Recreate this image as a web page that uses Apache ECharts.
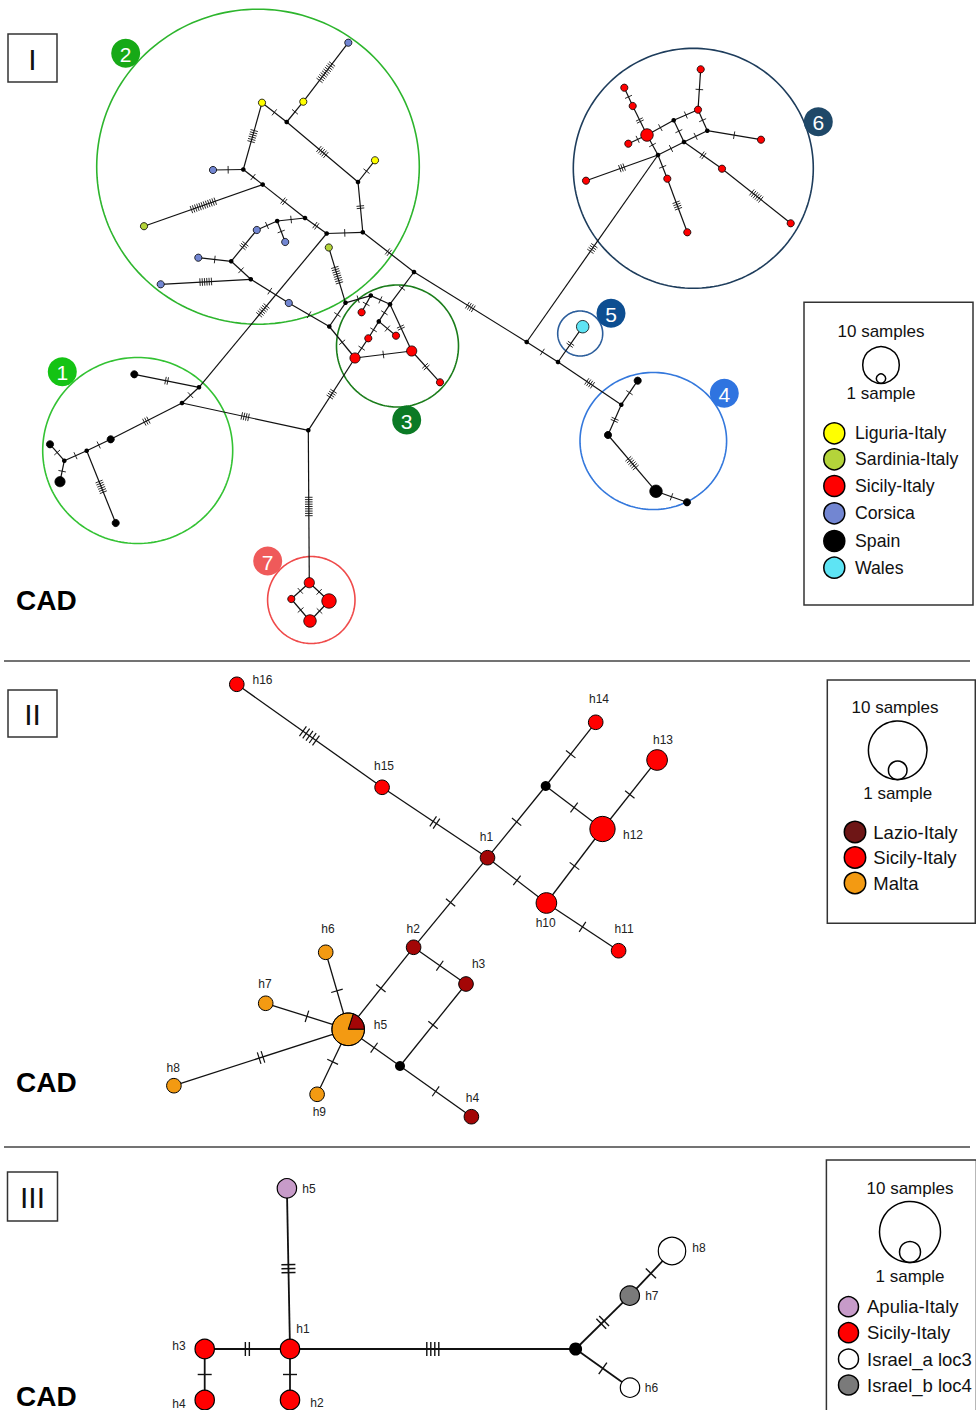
<!DOCTYPE html>
<html>
<head>
<meta charset="utf-8">
<title>CAD haplotype networks</title>
<script src="https://cdn.jsdelivr.net/npm/echarts@6.0.0/dist/echarts.min.js"></script>
<style>
html, body { margin: 0; padding: 0; background: #fff; }
#chart { width: 976px; height: 1410px; }
</style>
</head>
<body>
<div id="chart"></div>
<script>
// ================= Panel I =================
const popsI = ['Liguria-Italy', 'Sardinia-Italy', 'Sicily-Italy', 'Corsica', 'Spain', 'Wales'];
const colorsI = ['#ffff00', '#b4d43a', '#ff0000', '#7286d2', '#000000', '#5ee4f4'];

// haplotypes: [id, x, y, {population: samples}]; {} marks a median vector
const nodesI = [
  ['A1', 348.3, 42.7, { 'Corsica': 1 }],
  ['A2', 303.3, 101.7, { 'Liguria-Italy': 1 }],
  ['A3', 262.0, 102.7, { 'Liguria-Italy': 1 }],
  ['A4', 286.7, 122.0, {}],
  ['A5', 375.0, 160.3, { 'Liguria-Italy': 1 }],
  ['A6', 358.0, 182.0, {}],
  ['A7', 243.3, 169.5, {}],
  ['A8', 213.0, 170.0, { 'Corsica': 1 }],
  ['A9', 262.7, 184.6, {}],
  ['A10', 144.0, 226.2, { 'Sardinia-Italy': 1 }],
  ['A11', 305.0, 218.0, {}],
  ['A12', 277.2, 221.0, {}],
  ['A13', 256.8, 230.0, { 'Corsica': 1 }],
  ['A14', 285.2, 242.0, { 'Corsica': 1 }],
  ['A15', 326.7, 233.5, {}],
  ['A16', 362.8, 232.3, {}],
  ['A17', 328.8, 247.5, { 'Sardinia-Italy': 1 }],
  ['A18', 198.3, 257.7, { 'Corsica': 1 }],
  ['A19', 231.2, 261.3, {}],
  ['A20', 160.7, 284.3, { 'Corsica': 1 }],
  ['A21', 250.8, 279.3, {}],
  ['A22', 288.8, 303.0, { 'Corsica': 1 }],
  ['A23', 329.3, 326.5, {}],
  ['A24', 414.0, 272.0, {}],
  ['A25', 345.5, 302.8, {}],
  ['A26', 370.8, 295.6, {}],
  ['A27', 390.0, 304.2, {}],
  ['A28', 361.6, 312.3, { 'Sicily-Italy': 1 }],
  ['A29', 378.8, 321.4, {}],
  ['A30', 396.0, 335.7, { 'Sicily-Italy': 1 }],
  ['A31', 368.3, 338.3, { 'Sicily-Italy': 1 }],
  ['A32', 355.0, 358.0, { 'Sicily-Italy': 2 }],
  ['A33', 411.7, 351.0, { 'Sicily-Italy': 2 }],
  ['A34', 440.0, 382.3, { 'Sicily-Italy': 1 }],
  ['B1', 134.3, 374.3, { 'Spain': 1 }],
  ['B2', 199.0, 387.3, {}],
  ['B3', 182.0, 403.0, {}],
  ['B4', 110.7, 439.3, { 'Spain': 1 }],
  ['B5', 86.7, 450.7, {}],
  ['B6', 64.3, 460.7, {}],
  ['B7', 50.0, 444.3, { 'Spain': 1 }],
  ['B8', 60.0, 481.7, { 'Spain': 2 }],
  ['B9', 115.7, 523.0, { 'Spain': 1 }],
  ['B10', 308.3, 430.3, {}],
  ['C1', 309.3, 582.7, { 'Sicily-Italy': 2 }],
  ['C2', 291.3, 599.0, { 'Sicily-Italy': 1 }],
  ['C3', 329.0, 601.0, { 'Sicily-Italy': 4 }],
  ['C4', 310.0, 621.0, { 'Sicily-Italy': 3 }],
  ['D1', 526.7, 342.0, {}],
  ['D2', 558.0, 362.0, {}],
  ['D3', 582.7, 326.7, { 'Wales': 3 }],
  ['D4', 621.3, 404.7, {}],
  ['D5', 637.7, 380.7, { 'Spain': 1 }],
  ['D6', 608.0, 435.0, { 'Spain': 1 }],
  ['D7', 656.0, 491.3, { 'Spain': 3 }],
  ['D8', 687.0, 502.3, { 'Spain': 1 }],
  ['E1', 700.7, 69.3, { 'Sicily-Italy': 1 }],
  ['E2', 698.0, 109.7, { 'Sicily-Italy': 1 }],
  ['E3', 624.3, 87.7, { 'Sicily-Italy': 1 }],
  ['E4', 632.7, 106.0, { 'Sicily-Italy': 1 }],
  ['E5', 647.0, 135.0, { 'Sicily-Italy': 3 }],
  ['E6', 628.3, 143.7, { 'Sicily-Italy': 1 }],
  ['E7', 673.7, 120.3, {}],
  ['E8', 707.3, 130.7, {}],
  ['E9', 684.0, 142.0, {}],
  ['E10', 658.0, 155.0, {}],
  ['E11', 761.0, 139.7, { 'Sicily-Italy': 1 }],
  ['E12', 586.0, 180.7, { 'Sicily-Italy': 1 }],
  ['E13', 667.3, 178.7, { 'Sicily-Italy': 1 }],
  ['E14', 687.3, 232.3, { 'Sicily-Italy': 1 }],
  ['E15', 722.0, 168.7, { 'Sicily-Italy': 1 }],
  ['E16', 790.7, 223.3, { 'Sicily-Italy': 1 }]
];

// links: [from, to, mutational steps]
const edgesI = [
  ['A1', 'A2', 10], ['A2', 'A4', 1], ['A3', 'A4', 1], ['A4', 'A6', 5], ['A5', 'A6', 1], ['A6', 'A16', 2],
  ['A3', 'A7', 6], ['A8', 'A7', 1], ['A7', 'A9', 1], ['A10', 'A9', 12], ['A9', 'A11', 2], ['A11', 'A15', 2],
  ['A15', 'A16', 1], ['A12', 'A11', 1], ['A12', 'A13', 1], ['A12', 'A14', 1], ['A13', 'A19', 3],
  ['A18', 'A19', 1], ['A19', 'A21', 1], ['A20', 'A21', 6], ['A21', 'A22', 1], ['A22', 'A23', 1],
  ['A15', 'B2', 6], ['A16', 'A24', 2], ['A24', 'D1', 4], ['A17', 'A25', 8], ['A25', 'A23', 1],
  ['A25', 'A26', 1], ['A26', 'A28', 1], ['A26', 'A27', 1], ['A27', 'A24', 1], ['A27', 'A29', 1],
  ['A29', 'A31', 1], ['A31', 'A32', 1], ['A29', 'A30', 1], ['A27', 'A33', 2], ['A32', 'A33', 1],
  ['A33', 'A34', 2], ['A23', 'A32', 1], ['B10', 'A32', 4],
  ['B1', 'B2', 2], ['B2', 'B3', 1], ['B3', 'B4', 3], ['B4', 'B5', 1], ['B5', 'B6', 1], ['B6', 'B7', 1],
  ['B6', 'B8', 1], ['B5', 'B9', 6], ['B3', 'B10', 4],
  ['B10', 'C1', 9], ['C1', 'C2', 1], ['C1', 'C3', 1], ['C2', 'C4', 1], ['C3', 'C4', 1],
  ['D1', 'D2', 1], ['D2', 'D3', 2], ['D2', 'D4', 4], ['D4', 'D5', 1], ['D4', 'D6', 2], ['D6', 'D7', 6],
  ['D7', 'D8', 1], ['D1', 'E10', 4],
  ['E1', 'E2', 1], ['E2', 'E7', 1], ['E2', 'E8', 1], ['E7', 'E5', 1], ['E7', 'E9', 1], ['E8', 'E9', 1],
  ['E8', 'E11', 1], ['E3', 'E4', 1], ['E4', 'E5', 2], ['E5', 'E6', 1], ['E5', 'E10', 1], ['E9', 'E10', 1],
  ['E10', 'E12', 3], ['E10', 'E13', 1], ['E13', 'E14', 4], ['E9', 'E15', 2], ['E15', 'E16', 6]
];

// haplogroups: [label, centre x, centre y, radius x, radius y]
const groupsI = [
  ['1', 137.7, 450.5, 95, 93],
  ['2', 258.0, 166.7, 161.3, 157.5],
  ['3', 397.5, 346.0, 61, 61],
  ['4', 653.3, 441.0, 73.3, 68.5],
  ['5', 580.2, 333.5, 22.5, 22.5],
  ['6', 693.3, 168.3, 120, 120],
  ['7', 311.3, 600.0, 43.7, 43.5]
];
const groupTagsI = [
  ['1', 62.3, 371.7], ['2', 125.7, 53.3], ['3', 406.7, 420.0], ['4', 724.3, 393.3],
  ['5', 611.0, 313.3], ['6', 818.3, 121.7], ['7', 267.7, 561.0]
];
const groupRingColors = ['#33c233', '#2db52d', '#1b7d1b', '#3478dc', '#2b5d9b', '#1e3d5c', '#ef4a4a'];
const groupTagColors = ['#14c314', '#17a917', '#0b7a25', '#2f74e0', '#0d4e91', '#1f4868', '#ef5a5a'];

// ================= Panel II =================
const popsII = ['Lazio-Italy', 'Sicily-Italy', 'Malta'];
const colorsII = ['#a30606', '#ff0000', '#f39a12'];
const swatchII = ['#6e1616', '#ff0000', '#f39a12'];

const nodesII = [
  ['h16', 236.8, 684.3, { 'Sicily-Italy': 1 }],
  ['h15', 382.1, 787.3, { 'Sicily-Italy': 1 }],
  ['h14', 595.7, 722.3, { 'Sicily-Italy': 1 }],
  ['h13', 657.1, 760.0, { 'Sicily-Italy': 2 }],
  ['h12', 602.5, 829.0, { 'Sicily-Italy': 3 }],
  ['h1', 487.5, 857.7, { 'Lazio-Italy': 1 }],
  ['mv1', 545.7, 786.0, {}],
  ['h10', 546.4, 903.0, { 'Sicily-Italy': 2 }],
  ['h11', 618.6, 950.7, { 'Sicily-Italy': 1 }],
  ['h2', 413.6, 947.3, { 'Lazio-Italy': 1 }],
  ['h3', 466.0, 984.0, { 'Lazio-Italy': 1 }],
  ['h5', 348.2, 1029.3, { 'Lazio-Italy': 1, 'Malta': 4 }],
  ['mv2', 400.0, 1066.0, {}],
  ['h4', 471.4, 1116.7, { 'Lazio-Italy': 1 }],
  ['h6', 325.7, 952.3, { 'Malta': 1 }],
  ['h7', 265.7, 1003.3, { 'Malta': 1 }],
  ['h8', 173.9, 1085.7, { 'Malta': 1 }],
  ['h9', 317.1, 1094.3, { 'Malta': 1 }]
];
const edgesII = [
  ['h16', 'h15', 5], ['h15', 'h1', 2], ['h1', 'mv1', 1], ['mv1', 'h14', 1], ['mv1', 'h12', 1],
  ['h12', 'h13', 1], ['h1', 'h10', 1], ['h10', 'h12', 1], ['h10', 'h11', 1], ['h1', 'h2', 1],
  ['h2', 'h5', 1], ['h2', 'h3', 1], ['h3', 'mv2', 1], ['h5', 'mv2', 1], ['mv2', 'h4', 1],
  ['h5', 'h6', 1], ['h5', 'h7', 1], ['h5', 'h8', 2], ['h5', 'h9', 1]
];

// ================= Panel III =================
const popsIII = ['Apulia-Italy', 'Sicily-Italy', 'Israel_a loc3', 'Israel_b loc4'];
const colorsIII = ['#c79bc9', '#ff0000', '#ffffff', '#7a7a7a'];

const nodesIII = [
  ['h5', 286.9, 1188.3, { 'Apulia-Italy': 1 }],
  ['h1', 290.0, 1349.0, { 'Sicily-Italy': 1 }],
  ['h3', 204.7, 1349.0, { 'Sicily-Italy': 1 }],
  ['h4', 204.7, 1400.0, { 'Sicily-Italy': 1 }],
  ['h2', 290.0, 1400.0, { 'Sicily-Italy': 1 }],
  ['mv1', 575.6, 1349.0, {}],
  ['h7', 629.8, 1295.7, { 'Israel_b loc4': 1 }],
  ['h8', 672.0, 1251.0, { 'Israel_a loc3': 2 }],
  ['h6', 630.0, 1387.7, { 'Israel_a loc3': 1 }]
];
const edgesIII = [
  ['h5', 'h1', 3], ['h3', 'h1', 2], ['h3', 'h4', 1], ['h1', 'h2', 1], ['h1', 'mv1', 4],
  ['mv1', 'h7', 2], ['h7', 'h8', 1], ['mv1', 'h6', 1]
];

// ---------- drawing styles per panel ----------
const FONT = "'Liberation Sans', Arial, Helvetica, sans-serif";
const panelStyle = [
  { unit: 3.6, mv: 2.3, edgeW: 1.2, tickHalf: 3.8, tickGap: 2.3, tickW: 0.9, outline: 0.8 },
  { unit: 7.3, mv: 5.0, edgeW: 1.3, tickHalf: 6.0, tickGap: 4.0, tickW: 1.2, outline: 1.0 },
  { unit: 9.7, mv: 6.5, edgeW: 1.8, tickHalf: 7.0, tickGap: 4.0, tickW: 1.4, outline: 1.2 }
];
// haplotype name placement relative to the node centre: [dx, dy]
const labelAt = [
  null,
  {
    h16: [25.7, -4.3], h15: [1.9, -21.6], h14: [3.3, -23.3], h13: [5.9, -20.3], h12: [30.5, 6],
    h1: [-1.1, -20.4], h10: [-0.7, 19.7], h11: [5.4, -21.4], h2: [-0.4, -18], h3: [12.6, -20],
    h6: [2.2, -23], h7: [-0.7, -19], h5: [32.2, -4.3], h8: [-0.7, -18], h9: [2.2, 18], h4: [1.1, -18.4]
  },
  {
    h5: [22, 1], h1: [13, -20], h3: [-25.7, -3], h4: [-25.7, 4], h2: [27, 3.3],
    h7: [22, 0], h8: [27, -2.7], h6: [21.4, 0]
  }
];

const panels = [
  { nodes: nodesI, edges: edgesI, pops: popsI, colors: colorsI },
  { nodes: nodesII, edges: edgesII, pops: popsII, colors: colorsII },
  { nodes: nodesIII, edges: edgesIII, pops: popsIII, colors: colorsIII }
];

const flatNodes = [];
const flatEdges = [];
panels.forEach((p, pi) => {
  const byId = {};
  p.nodes.forEach(([id, x, y, counts]) => {
    const nd = { id, x, y, counts, panel: pi };
    byId[id] = nd;
    flatNodes.push(nd);
  });
  p.edges.forEach(([a, b, m]) => {
    flatEdges.push([byId[a].x, byId[a].y, byId[b].x, byId[b].y, m, pi]);
  });
});

function colorOf(panel, pop) {
  const p = panels[panel];
  return p.colors[p.pops.indexOf(pop)];
}

function renderEdge(params, api) {
  const p1 = api.coord([api.value(0), api.value(1)]);
  const p2 = api.coord([api.value(2), api.value(3)]);
  const m = api.value(4);
  const st = panelStyle[api.value(5)];
  const kids = [{
    type: 'line',
    shape: { x1: p1[0], y1: p1[1], x2: p2[0], y2: p2[1] },
    style: { stroke: '#111', lineWidth: st.edgeW }
  }];
  const dx = p2[0] - p1[0], dy = p2[1] - p1[1];
  const L = Math.hypot(dx, dy);
  const ux = dx / L, uy = dy / L, nx = -uy, ny = ux;
  const mx = (p1[0] + p2[0]) / 2, my = (p1[1] + p2[1]) / 2;
  for (let i = 0; i < m; i++) {
    const off = (i - (m - 1) / 2) * st.tickGap;
    const cx = mx + ux * off, cy = my + uy * off;
    kids.push({
      type: 'line',
      shape: { x1: cx - nx * st.tickHalf, y1: cy - ny * st.tickHalf, x2: cx + nx * st.tickHalf, y2: cy + ny * st.tickHalf },
      style: { stroke: '#111', lineWidth: st.tickW }
    });
  }
  return { type: 'group', children: kids };
}

function renderNode(params, api) {
  const nd = flatNodes[params.dataIndex];
  const st = panelStyle[nd.panel];
  const c = api.coord([nd.x, nd.y]);
  const entries = Object.entries(nd.counts);
  const total = entries.reduce((s, e) => s + e[1], 0);
  const kids = [];
  if (total === 0) {
    const r = api.size([st.mv, st.mv])[0];
    kids.push({ type: 'circle', shape: { cx: c[0], cy: c[1], r }, style: { fill: '#000' } });
  } else {
    const rr = st.unit * Math.sqrt(total);
    const r = api.size([rr, rr])[0];
    if (entries.length === 1) {
      kids.push({
        type: 'circle', shape: { cx: c[0], cy: c[1], r },
        style: { fill: colorOf(nd.panel, entries[0][0]), stroke: '#000', lineWidth: st.outline }
      });
    } else {
      let a = 0;
      entries.forEach(([pop, n]) => {
        const span = 2 * Math.PI * n / total;
        kids.push({
          type: 'sector',
          shape: { cx: c[0], cy: c[1], r0: 0, r, startAngle: a - span, endAngle: a, clockwise: true },
          style: { fill: colorOf(nd.panel, pop), stroke: '#000', lineWidth: st.outline }
        });
        a -= span;
      });
      kids.push({
        type: 'circle', shape: { cx: c[0], cy: c[1], r },
        style: { fill: 'none', stroke: '#000', lineWidth: st.outline }
      });
    }
  }
  const lp = labelAt[nd.panel] && labelAt[nd.panel][nd.id];
  if (lp) {
    kids.push({
      type: 'text', x: c[0] + lp[0], y: c[1] + lp[1],
      style: { text: nd.id, fill: '#222', fontSize: 12, fontFamily: FONT, align: 'center', verticalAlign: 'middle' }
    });
  }
  return { type: 'group', children: kids };
}

function renderGroup(params, api) {
  const g = groupsI[params.dataIndex];
  const c = api.coord([g[1], g[2]]);
  const sz = api.size([g[3], g[4]]);
  const pts = [];
  for (let k = 0; k < 180; k++) {
    const t = (k / 180) * 2 * Math.PI;
    pts.push([c[0] + sz[0] * Math.cos(t), c[1] + sz[1] * Math.sin(t)]);
  }
  return {
    type: 'polygon', shape: { points: pts },
    style: { fill: 'none', stroke: groupRingColors[params.dataIndex], lineWidth: 1.6 }
  };
}

function renderTag(params, api) {
  const t = groupTagsI[params.dataIndex];
  const c = api.coord([t[1], t[2]]);
  return {
    type: 'group',
    children: [
      { type: 'circle', shape: { cx: c[0], cy: c[1], r: 14.5 }, style: { fill: groupTagColors[params.dataIndex] } },
      {
        type: 'text', x: c[0], y: c[1] + 1,
        style: { text: t[0], fill: '#fff', fontSize: 21, fontFamily: FONT, align: 'center', verticalAlign: 'middle' }
      }
    ]
  };
}

// ---------- legends, frames and captions ----------
const decor = [];
function text(x, y, str, size, opts) {
  decor.push({
    type: 'text', x, y,
    style: Object.assign({ text: str, fill: '#111', fontSize: size, fontFamily: FONT, align: 'center', verticalAlign: 'middle' }, opts || {})
  });
}
function ring(cx, cy, r, fill, lw) {
  decor.push({ type: 'circle', shape: { cx, cy, r }, style: { fill: fill || 'none', stroke: '#000', lineWidth: lw || 1.5 } });
}
function frame(x, y, w, h) {
  decor.push({ type: 'rect', shape: { x, y, width: w, height: h }, style: { fill: 'none', stroke: '#333', lineWidth: 1.5 } });
}
function legend(box, head, big, small, sampleY, swX, txtX, rows, labels, colors, swR, txtSize) {
  frame(box[0], box[1], box[2], box[3]);
  text(head[0], head[1], '10 samples', 17);
  ring(big[0], big[1], big[2], 'none', 1.5);
  ring(big[0], big[1] + big[2] - small, small, 'none', 1.5);
  text(big[0], sampleY, '1 sample', 17);
  labels.forEach((lab, i) => {
    ring(swX, rows[i], swR, colors[i], 1.5);
    text(txtX, rows[i], lab, txtSize, { align: 'left' });
  });
}

// panel frames & captions
frame(8, 34, 49, 48); text(32.5, 59, 'I', 30);
frame(8, 690, 49, 47); text(32.5, 714, 'II', 30);
frame(7.5, 1172, 50, 49); text(32.5, 1197, 'III', 30);
text(16, 600.5, 'CAD', 28, { align: 'left', fontWeight: 'bold', fill: '#000' });
text(16, 1082, 'CAD', 28, { align: 'left', fontWeight: 'bold', fill: '#000' });
text(16, 1396, 'CAD', 28, { align: 'left', fontWeight: 'bold', fill: '#000' });
decor.push({ type: 'line', shape: { x1: 4, y1: 661, x2: 970, y2: 661 }, style: { stroke: '#444', lineWidth: 1.5 } });
decor.push({ type: 'line', shape: { x1: 4, y1: 1147, x2: 970, y2: 1147 }, style: { stroke: '#444', lineWidth: 1.5 } });

legend([804, 302.3, 169, 302.7], [881, 331.7], [881, 365, 18.3], 4.7, 393.3, 834.3, 855,
  [433.3, 459.3, 486, 513.3, 541, 567.7], popsI, colorsI, 10.5, 17.7);
legend([827.3, 680, 148, 243.3], [895, 707.3], [897.7, 750.3, 29.3], 9.3, 793.3, 855, 873.3,
  [832, 857.5, 883], popsII, swatchII, 10.7, 18.5);
legend([826.4, 1160, 150, 260], [910, 1188.3], [910, 1232, 30.5], 10.5, 1276, 848.5, 867,
  [1306.7, 1332.7, 1359, 1385], popsIII, colorsIII, 10, 18.5);

const chart = echarts.init(document.getElementById('chart'), null, { renderer: 'svg', width: 976, height: 1410 });
chart.setOption({
  animation: false,
  backgroundColor: '#ffffff',
  grid: { left: 0, right: 0, top: 0, bottom: 0, containLabel: false },
  xAxis: { type: 'value', min: 0, max: 976, show: false },
  yAxis: { type: 'value', min: 0, max: 1410, inverse: true, show: false },
  series: [
    {
      type: 'custom', name: 'haplogroups', z: 1, clip: false,
      data: groupsI.map(g => [g[1], g[2]]), encode: { x: 0, y: 1 },
      renderItem: renderGroup, silent: true
    },
    {
      type: 'custom', name: 'links', z: 2, clip: false,
      data: flatEdges, encode: { x: [0, 2], y: [1, 3] },
      renderItem: renderEdge, silent: true
    },
    {
      type: 'custom', name: 'haplotypes', z: 3, clip: false,
      data: flatNodes.map(n => [n.x, n.y]), encode: { x: 0, y: 1 },
      renderItem: renderNode, silent: true
    },
    {
      type: 'custom', name: 'haplogroup tags', z: 4, clip: false,
      data: groupTagsI.map(t => [t[1], t[2]]), encode: { x: 0, y: 1 },
      renderItem: renderTag, silent: true
    }
  ],
  graphic: { elements: decor }
});
</script>
</body>
</html>
